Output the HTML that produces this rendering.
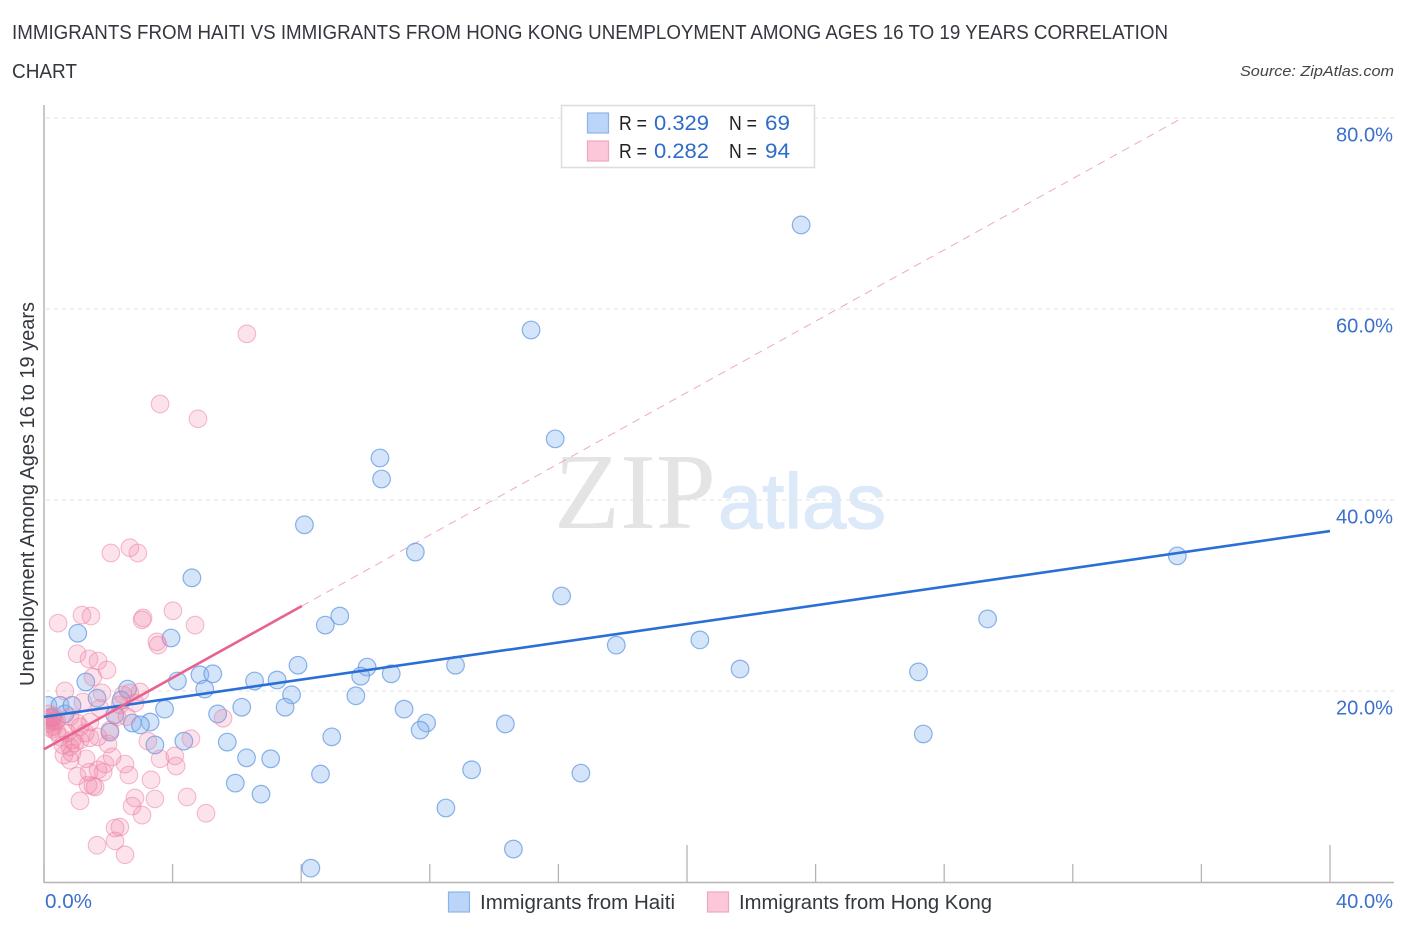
<!DOCTYPE html>
<html lang="en">
<head>
<meta charset="utf-8">
<title>Immigrants from Haiti vs Immigrants from Hong Kong Unemployment Correlation Chart</title>
<style>
html,body{margin:0;padding:0;background:#fff;width:1406px;height:930px;overflow:hidden}
svg{display:block}
text{font-family:"Liberation Sans",sans-serif}
</style>
</head>
<body>
<svg id="chart" width="1406" height="930" viewBox="0 0 1406 930" xmlns="http://www.w3.org/2000/svg">
  <defs>
    <clipPath id="plot-clip"><rect x="45.5" y="105" width="1349" height="777"/></clipPath>
  </defs>
  <rect x="0" y="0" width="1406" height="930" fill="#fff"/>
  <text x="12" y="39" font-size="20" fill="#33373e" textLength="1156" lengthAdjust="spacingAndGlyphs">IMMIGRANTS FROM HAITI VS IMMIGRANTS FROM HONG KONG UNEMPLOYMENT AMONG AGES 16 TO 19 YEARS CORRELATION</text>
  <text x="12" y="78" font-size="20" fill="#33373e" textLength="65" lengthAdjust="spacingAndGlyphs">CHART</text>
  <text x="1394" y="76" font-size="15" font-style="italic" fill="#444" text-anchor="end" textLength="154" lengthAdjust="spacingAndGlyphs">Source: ZipAtlas.com</text>

  <g>
    <text x="554" y="528" font-size="108" fill="#e4e4e4" style="font-family:'Liberation Serif',serif" textLength="162" lengthAdjust="spacingAndGlyphs">ZIP</text>
    <text x="718" y="528" font-size="78" fill="#dce9f9" stroke="#dce9f9" stroke-width="1.2" textLength="168" lengthAdjust="spacingAndGlyphs">atlas</text>
  </g>

  <g id="grid"></g>
  <g id="axes"></g>
  <line id="trend-reference" stroke="#efa9bf" stroke-width="1" stroke-dasharray="8 6"/>
  <g id="points-haiti" clip-path="url(#plot-clip)"></g>
  <g id="points-hk" clip-path="url(#plot-clip)"></g>
  <line id="trend-haiti" stroke="#2a6fd6" stroke-width="2.6"/>
  <line id="trend-hk" stroke="#e8628f" stroke-width="2.6"/>

  <text transform="translate(34,494) rotate(-90)" font-size="20" fill="#33373e" text-anchor="middle" textLength="384" lengthAdjust="spacingAndGlyphs">Unemployment Among Ages 16 to 19 years</text>
  <g id="tick-labels"></g>

  <g>
    <rect x="561.5" y="105.5" width="253" height="62" fill="#fff" stroke="#ddd" stroke-width="1.5"/>
    <rect x="587.5" y="113" width="21" height="20" fill="#bad5f8" stroke="#8db4e8" stroke-width="1.2"/>
    <rect x="587.5" y="141" width="21" height="20" fill="#fcc8d9" stroke="#f0a6bf" stroke-width="1.2"/>
    <text x="619" y="130" font-size="20" fill="#222" textLength="28" lengthAdjust="spacingAndGlyphs">R =</text>
    <text x="654" y="130" font-size="21" fill="#2f6bc9" textLength="55" lengthAdjust="spacingAndGlyphs">0.329</text>
    <text x="729" y="130" font-size="20" fill="#222" textLength="28" lengthAdjust="spacingAndGlyphs">N =</text>
    <text x="765" y="130" font-size="21" fill="#2f6bc9" textLength="25" lengthAdjust="spacingAndGlyphs">69</text>
    <text x="619" y="158" font-size="20" fill="#222" textLength="28" lengthAdjust="spacingAndGlyphs">R =</text>
    <text x="654" y="158" font-size="21" fill="#2f6bc9" textLength="55" lengthAdjust="spacingAndGlyphs">0.282</text>
    <text x="729" y="158" font-size="20" fill="#222" textLength="28" lengthAdjust="spacingAndGlyphs">N =</text>
    <text x="765" y="158" font-size="21" fill="#2f6bc9" textLength="25" lengthAdjust="spacingAndGlyphs">94</text>
  </g>

  <g>
    <rect x="448.5" y="892" width="21" height="20" fill="#bad5f8" stroke="#8db4e8" stroke-width="1.2"/>
    <text x="480" y="909" font-size="20" fill="#33373e" textLength="195" lengthAdjust="spacingAndGlyphs">Immigrants from Haiti</text>
    <rect x="707.5" y="892" width="21" height="20" fill="#fcc8d9" stroke="#f0a6bf" stroke-width="1.2"/>
    <text x="739" y="909" font-size="20" fill="#33373e" textLength="253" lengthAdjust="spacingAndGlyphs">Immigrants from Hong Kong</text>
  </g>
</svg>
<script>
const haitiX = [23.55,15.15,15.9,10.45,10.5,8.1,11.55,35.25,16.1,4.6,9.2,8.75,29.35,1.05,3.95,17.8,20.4,21.65,27.2,12.8,7.9,10.05,9.85,10.8,4.85,5.25,4.15,5.0,6.55,7.25,1.3,2.6,7.7,9.7,7.5,6.15,3.75,11.2,5.4,1.65,2.4,11.9,11.7,14.35,3.3,2.75,3.0,27.35,2.05,8.95,4.35,3.45,5.7,6.3,7.05,13.3,8.6,16.7,5.95,6.75,12.5,14.6,8.3,2.2,0.12,0.5,0.65,0.87,0.25];
const haitiY = [68.8,57.8,46.4,44.4,42.2,37.4,34.55,34.15,29.95,31.85,27.85,26.9,27.55,26.05,25.55,24.8,25.35,22.3,22.0,22.7,22.7,22.5,21.55,21.8,21.7,21.8,21.05,20.2,21.05,21.15,20.95,20.2,19.6,19.5,18.3,18.3,18.1,18.1,17.6,19.25,19.05,16.65,15.9,16.55,16.75,16.65,16.45,15.5,15.7,15.2,14.75,14.35,14.65,13.0,12.9,11.75,11.3,11.4,10.35,9.2,7.75,3.45,1.45,17.5,18.5,18.5,17.6,18.5,17.2];
const hongKongX = [6.31,3.61,4.79,2.67,2.08,2.92,1.18,1.46,0.44,4.01,3.08,3.05,4.7,3.51,3.55,1.03,1.4,1.68,1.96,1.52,0.65,1.8,2.99,2.67,2.46,1.21,1.74,1.12,1.03,1.28,1.43,0.72,0.5,0.4,0.87,0.59,0.81,0.96,1.12,1.68,2.05,1.99,2.12,0.62,0.87,0.81,1.31,1.03,1.4,1.68,1.9,1.84,2.52,2.64,1.37,1.59,1.52,1.12,3.33,3.45,4.45,5.04,2.83,2.74,3.05,2.36,2.21,2.21,1.65,2.52,3.23,3.61,4.07,4.11,4.57,5.57,2.27,2.58,0.15,0.25,0.1,0.3,0.35,0.2,0.3,0.2,0.1,0.25,0.4,0.15,2.36,2.83,0.81,1.43];
const hongKongY = [57.4,50.05,48.5,35.0,34.45,34.45,27.95,27.85,27.1,28.4,27.65,27.45,26.9,25.15,24.8,23.9,23.35,23.15,22.2,21.45,20.0,19.8,19.9,19.8,19.6,18.85,18.2,16.25,16.65,15.6,15.1,15.6,15.2,15.7,14.85,14.35,14.15,14.55,14.85,15.2,15.9,14.45,13.1,13.3,13.5,12.75,12.9,11.1,11.5,11.75,12.35,11.5,12.35,11.2,10.15,9.95,10.05,8.5,10.7,8.7,8.9,7.2,8.8,7.95,7.0,5.75,5.65,4.3,3.85,2.85,14.75,12.9,13.2,12.15,15.0,17.15,17.3,17.3,17.2,16.9,16.5,17.4,16.8,16.2,16.3,16.7,17.0,16.0,16.9,17.6,18.55,18.75,17.3,16.75];
const yTickValues = [20,40,60,80];
const yTickLabels = ["20.0%","40.0%","60.0%","80.0%"];
const xTickValues = [0,4,8,12,16,20,24,28,32,36,40];
const xMajorTicks = [20,40];
const xEndLabels = ["0.0%","40.0%"];
const haitiTrendEnds = [17.3,36.75];
const haitiTrendSpan = [0,40];
const hongKongTrendEnds = [13.9,28.9];
const hongKongTrendSpan = [0,8.02];
const hongKongExtensionEnd = [35.4,80];

const X0 = 44, X40 = 1330, Y0 = 882, Y80 = 118;
function sx(v){ return X0 + (X40 - X0) * v / 40; }
function sy(v){ return Y0 - (Y0 - Y80) * v / 80; }

const NS = "http://www.w3.org/2000/svg";
function make(tag, attrs){
  const el = document.createElementNS(NS, tag);
  for (const k in attrs) el.setAttribute(k, attrs[k]);
  return el;
}

const gridG = document.getElementById("grid");
yTickValues.forEach(function(v){
  const l = make("line", {x1:X0+2, x2:1394, y1:sy(v), y2:sy(v), stroke:"#e2e2e2", "stroke-width":1, "stroke-dasharray":"4 4"});
  
  
  gridG.appendChild(l);
});

const axesG = document.getElementById("axes");
const yAxis = make("line", {x1:X0, x2:X0, y1:105, y2:Y0+1, stroke:"#b5b5b5", "stroke-width":1.5});


axesG.appendChild(yAxis);
const xAxis = make("line", {x1:X0, x2:1394, y1:Y0+0.5, y2:Y0+0.5, stroke:"#b5b5b5", "stroke-width":1.5});


axesG.appendChild(xAxis);
xTickValues.forEach(function(v){
  const top = xMajorTicks.indexOf(v) >= 0 ? 845 : 864;
  const t = make("line", {x1:sx(v), x2:sx(v), y1:top, y2:Y0, stroke:"#b5b5b5", "stroke-width":1.3});
  
  
  axesG.appendChild(t);
});

const labelsG = document.getElementById("tick-labels");
yTickValues.forEach(function(v, i){
  const t = make("text", {x:1393, y:sy(v)+23.5, "font-size":20, fill:"#3b70cc", "text-anchor":"end", textLength:57, lengthAdjust:"spacingAndGlyphs"});
  t.textContent = yTickLabels[i];
  
  
  labelsG.appendChild(t);
});
const x0Label = make("text", {x:45, y:908, "font-size":20, fill:"#3b70cc", textLength:47, lengthAdjust:"spacingAndGlyphs"});
x0Label.textContent = xEndLabels[0];


labelsG.appendChild(x0Label);
const x40Label = make("text", {x:1393, y:908, "font-size":20, fill:"#3b70cc", "text-anchor":"end", textLength:57, lengthAdjust:"spacingAndGlyphs"});
x40Label.textContent = xEndLabels[1];


labelsG.appendChild(x40Label);

const haitiG = document.getElementById("points-haiti");
haitiX.forEach(function(v, i){
  const c = make("circle", {cx:sx(v), cy:sy(haitiY[i]), r:8.8, fill:"#8fb9f0", "fill-opacity":0.38, stroke:"#5f96e0", "stroke-opacity":0.72, "stroke-width":1.2});
  
  
  haitiG.appendChild(c);
});
const hkG = document.getElementById("points-hk");
hongKongX.forEach(function(v, i){
  const c = make("circle", {cx:sx(v), cy:sy(hongKongY[i]), r:8.8, fill:"#f07fa6", "fill-opacity":0.22, stroke:"#ec85a6", "stroke-opacity":0.55, "stroke-width":1.1});
  
  
  hkG.appendChild(c);
});

function setLine(id, x1, y1, x2, y2){
  const l = document.getElementById(id);
  l.setAttribute("x1", sx(x1));
  l.setAttribute("y1", sy(y1));
  l.setAttribute("x2", sx(x2));
  l.setAttribute("y2", sy(y2));
}
setLine("trend-haiti", haitiTrendSpan[0], haitiTrendEnds[0], haitiTrendSpan[1], haitiTrendEnds[1]);
setLine("trend-hk", hongKongTrendSpan[0], hongKongTrendEnds[0], hongKongTrendSpan[1], hongKongTrendEnds[1]);
setLine("trend-reference", hongKongTrendSpan[1], hongKongTrendEnds[1], hongKongExtensionEnd[0], hongKongExtensionEnd[1]);
</script>
</body>
</html>
